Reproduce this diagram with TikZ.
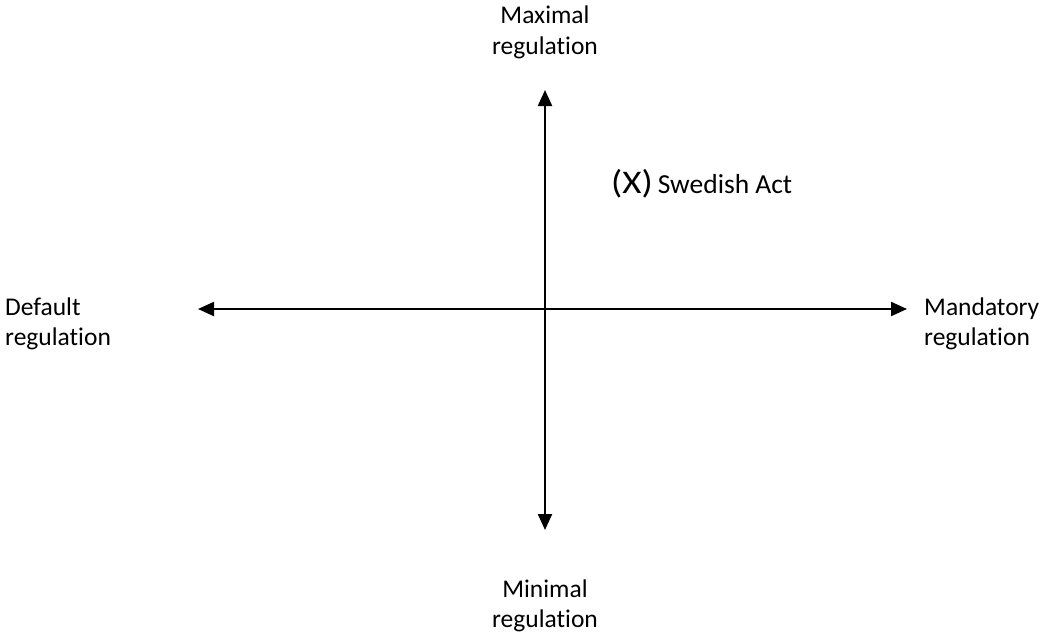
\documentclass[tikz,border=0pt]{standalone}
\usepackage{fontspec}
\setmainfont[Ligatures=NoCommon]{Carlito}
\newfontfamily\xfont[FakeStretch=1.12]{Carlito}
\usetikzlibrary{arrows.meta}
\begin{document}
\begin{tikzpicture}[x=1pt,y=-1pt,
  axis/.style={line width=2.2pt,{Triangle[length=16pt,width=14pt]}-{Triangle[length=16pt,width=14pt]}},
  lab/.style={font=\fontsize{25.5}{30}\selectfont,inner sep=0pt}]
\useasboundingbox (0,0) rectangle (1043,635);
\coordinate (top) at (545,90);
\coordinate (bot) at (545,530);
\coordinate (left) at (198,309);
\coordinate (right) at (907,309);
\draw[axis] (top) -- (bot);
\draw[axis] (left) -- (right);
\node[lab,anchor=base] (max1) at (545,23) {Maximal};
\node[lab,anchor=base] (max2) at (545,54) {regulation};
\node[lab,anchor=base] (min1) at (545,597) {Minimal};
\node[lab,anchor=base] (min2) at (545,627) {regulation};
\node[lab,anchor=base west] (def1) at (5,315) {Default};
\node[lab,anchor=base west] (def2) at (5,345) {regulation};
\node[lab,anchor=base west] (man1) at (924,315) {Mandatory};
\node[lab,anchor=base west] (man2) at (924,345) {regulation};
\node[inner sep=0pt,anchor=base west] (x) at (611,193) {\xfont\fontsize{33}{36}\selectfont (X)\hspace{5pt}\normalfont\fontsize{27.5}{30}\selectfont Swedish Act};
\end{tikzpicture}
\end{document}
